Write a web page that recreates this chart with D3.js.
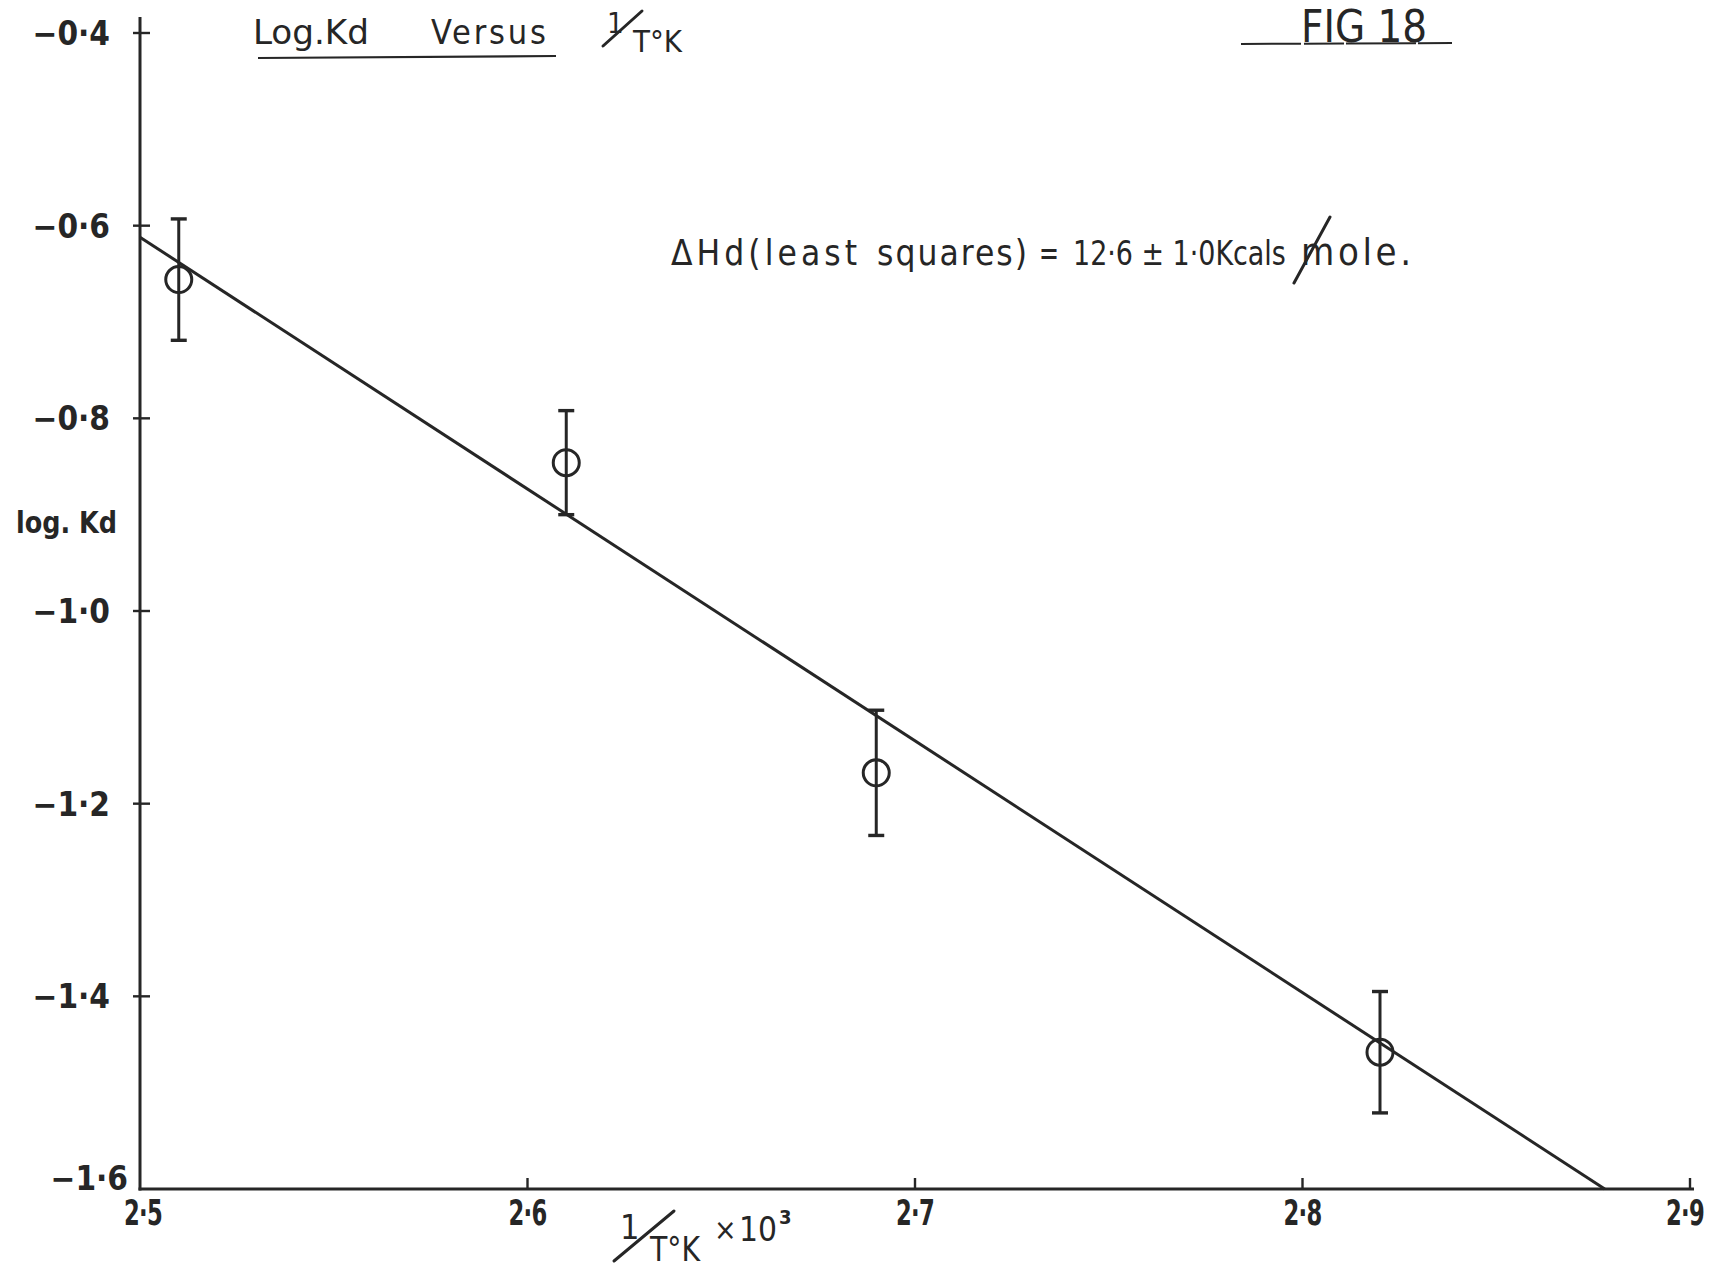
<!DOCTYPE html>
<html>
<head>
<meta charset="utf-8">
<script src="https://cdn.jsdelivr.net/npm/d3@7"></script>
<style>
  html, body { margin: 0; padding: 0; background: #fff; }
  svg { display: block; }
  text { font-family: "DejaVu Sans Condensed", "DejaVu Sans", sans-serif; fill: #262626; }
</style>
</head>
<body>
<svg id="chart" width="1712" height="1270"></svg>
<script>
// 1/T (°K) x 10^3 for each measurement
const invT = [2.51, 2.61, 2.69, 2.82];
// log Kd measured at each temperature
const logKd = [-0.656, -0.846, -1.168, -1.458];
// half-width of the error bar on log Kd
const logKdErr = [0.063, 0.054, 0.065, 0.063];
// least-squares line endpoints [1/T x 10^3, log Kd]
const fitX = [2.5, 2.878];
const fitY = [-0.612, -1.6];

// axis ticks and their labels
const xTicks = [2.5, 2.6, 2.7, 2.8, 2.9];
const xTickLabels = ["2·5", "2·6", "2·7", "2·8", "2·9"];
const yTicks = [-0.4, -0.6, -0.8, -1.0, -1.2, -1.4, -1.6];
const yTickLabels = ["−0·4", "−0·6", "−0·8", "−1·0", "−1·2", "−1·4", "−1·6"];

const ink = "#262626";
const svg = d3.select("#chart");

const x = d3.scaleLinear().domain([2.5, 2.9]).range([140, 1690]);
const y = d3.scaleLinear().domain([-1.6, -0.4]).range([1189, 33]);

// axes
svg.append("line")
  .attr("x1", x(2.5)).attr("x2", x(2.5))
  .attr("y1", y(-0.4) - 16).attr("y2", y(-1.6) + 1.5)
  .attr("stroke", ink).attr("stroke-width", 3);
svg.append("line")
  .attr("x1", x(2.5) - 1.5).attr("x2", x(2.9) + 4)
  .attr("y1", y(-1.6)).attr("y2", y(-1.6))
  .attr("stroke", ink).attr("stroke-width", 3);

// y ticks crossing the axis
svg.selectAll(".ytick").data(yTicks.slice(0, -1)).join("line")
  .attr("x1", x(2.5) - 7).attr("x2", x(2.5) + 10)
  .attr("y1", d => y(d)).attr("y2", d => y(d))
  .attr("stroke", ink).attr("stroke-width", 2.4);

const last = yTicks.length - 1;
svg.selectAll(".ylab").data(yTicks).join("text")
  .attr("x", (d, i) => x(2.5) - (i === last ? 12 : 30))
  .attr("y", (d, i) => y(d) + (i === last ? 1 : 12))
  .attr("text-anchor", "end")
  .attr("font-size", 33)
  .attr("font-weight", "bold")
  .text((d, i) => yTickLabels[i]);

// x ticks pointing up
svg.selectAll(".xtick").data(xTicks.slice(1)).join("line")
  .attr("x1", d => x(d)).attr("x2", d => x(d))
  .attr("y1", y(-1.6)).attr("y2", y(-1.6) - 11)
  .attr("stroke", ink).attr("stroke-width", 2.4);

// tall, narrow tick numerals
const xLast = xTicks.length - 1;
svg.selectAll(".xlab").data(xTicks).join("text")
  .attr("transform", (d, i) =>
    `translate(${x(d) + (i === 0 ? 3 : i === xLast ? -5 : 0)},${y(-1.6) + 36}) scale(0.72,1)`)
  .attr("text-anchor", "middle")
  .attr("font-size", 35)
  .attr("font-weight", "bold")
  .attr("letter-spacing", -1)
  .text((d, i) => xTickLabels[i]);

// least-squares line
svg.append("line")
  .attr("x1", x(fitX[0])).attr("y1", y(fitY[0]))
  .attr("x2", x(fitX[1])).attr("y2", y(fitY[1]))
  .attr("stroke", ink).attr("stroke-width", 3);

// error bars and points
const pts = invT.map((v, i) => ({ x: v, y: logKd[i], e: logKdErr[i] }));
const g = svg.append("g").attr("stroke", ink).attr("fill", "none");
g.selectAll(".bar").data(pts).join("line")
  .attr("x1", d => x(d.x)).attr("x2", d => x(d.x))
  .attr("y1", d => y(d.y + d.e)).attr("y2", d => y(d.y - d.e))
  .attr("stroke-width", 3);
g.selectAll(".capTop").data(pts).join("line")
  .attr("x1", d => x(d.x) - 8).attr("x2", d => x(d.x) + 8)
  .attr("y1", d => y(d.y + d.e)).attr("y2", d => y(d.y + d.e))
  .attr("stroke-width", 3.4);
g.selectAll(".capBot").data(pts).join("line")
  .attr("x1", d => x(d.x) - 8).attr("x2", d => x(d.x) + 8)
  .attr("y1", d => y(d.y - d.e)).attr("y2", d => y(d.y - d.e))
  .attr("stroke-width", 3.4);
g.selectAll("circle").data(pts).join("circle")
  .attr("cx", d => x(d.x)).attr("cy", d => y(d.y))
  .attr("r", 13).attr("stroke-width", 3);

// y axis title
svg.append("text").attr("x", 16).attr("y", 533)
  .attr("font-size", 30).attr("font-weight", "bold")
  .attr("textLength", 101).attr("lengthAdjust", "spacingAndGlyphs")
  .text("log. Kd");

// "1 / T°K" written with a slanted stroke
function slashFraction(x0, y0, x1, y1, oneX, oneY, oneSize, tX, tY, size, tLen) {
  svg.append("line").attr("x1", x0).attr("y1", y0).attr("x2", x1).attr("y2", y1)
    .attr("stroke", ink).attr("stroke-width", 3).attr("stroke-linecap", "round");
  svg.append("text").attr("x", oneX).attr("y", oneY)
    .attr("font-size", oneSize).text("1");
  svg.append("text").attr("x", tX).attr("y", tY)
    .attr("font-size", size)
    .attr("textLength", tLen).attr("lengthAdjust", "spacingAndGlyphs")
    .text("T°K");
}

// x axis title
slashFraction(614, 1261, 674, 1211, 620, 1239, 34, 650, 1261, 34, 50);
svg.append("text").attr("x", 714).attr("y", 1240).attr("font-size", 30).text("×");
svg.append("text").attr("x", 739).attr("y", 1241).attr("font-size", 34)
  .attr("textLength", 38).attr("lengthAdjust", "spacingAndGlyphs").text("10");
svg.append("text").attr("x", 779).attr("y", 1224).attr("font-size", 20)
  .attr("font-weight", "bold").text("3");

// heading
svg.append("text").attr("x", 253).attr("y", 44).attr("font-size", 34)
  .attr("textLength", 116).attr("lengthAdjust", "spacingAndGlyphs")
  .text("Log.Kd");
svg.append("text").attr("x", 431).attr("y", 44).attr("font-size", 34)
  .attr("textLength", 115).attr("lengthAdjust", "spacing")
  .text("Versus");
svg.append("line").attr("x1", 258).attr("x2", 556).attr("y1", 58).attr("y2", 56)
  .attr("stroke", ink).attr("stroke-width", 2.2);
slashFraction(603, 46, 642, 11, 607, 33, 29, 633, 52, 30, 49);

svg.append("text").attr("x", 1301).attr("y", 42).attr("font-size", 44)
  .attr("textLength", 126).attr("lengthAdjust", "spacingAndGlyphs")
  .text("FIG 18");
svg.append("line").attr("x1", 1241).attr("x2", 1452).attr("y1", 44).attr("y2", 43)
  .attr("stroke", ink).attr("stroke-width", 2).attr("stroke-dasharray", "60 3 40 2 70 2");

// enthalpy annotation, word by word; widened words get letter-spacing,
// narrowed ones a horizontal squeeze so their boxes stay apart
const note = [
  { t: "ΔHd(least", x0: 671, w: 186, fs: 35 },
  { t: "squares)", x0: 877, w: 150, fs: 35 },
  { t: "=", x0: 1039, w: 20, fs: 35 },
  { t: "12·6 ± 1·0Kcals", x0: 1073, w: 213, fs: 34 },
  { t: "mole.", x0: 1301, w: 110, fs: 38 }
];
svg.selectAll(".note").data(note).join("text")
  .attr("font-size", d => d.fs)
  .text(d => d.t)
  .each(function (d) {
    const el = d3.select(this);
    const n = this.getComputedTextLength();
    if (n < d.w && d.t.length > 1) {
      el.attr("x", d.x0).attr("y", 265)
        .attr("letter-spacing", (d.w - n) / (d.t.length - 1));
    } else {
      el.attr("transform", `translate(${d.x0},265) scale(${d.w / n},1)`);
    }
  });
svg.append("line").attr("x1", 1294).attr("y1", 283).attr("x2", 1330).attr("y2", 217)
  .attr("stroke", ink).attr("stroke-width", 3).attr("stroke-linecap", "round");
</script>
</body>
</html>
